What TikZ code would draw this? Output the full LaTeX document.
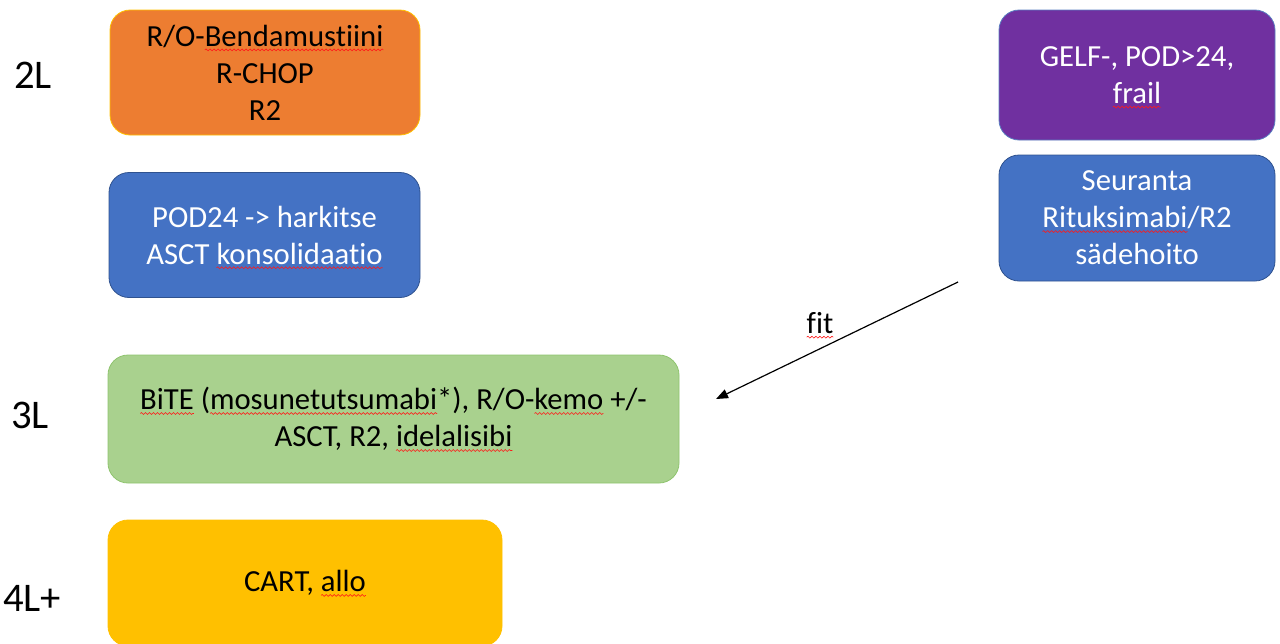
\documentclass[tikz,border=0pt]{standalone}
\usepackage{fontspec}
\setmainfont{Carlito}[Ligatures=NoCommon]
\usetikzlibrary{arrows.meta,decorations.pathmorphing}
\newsavebox\sqbox
\newcommand\sq[1]{\sbox\sqbox{#1}\rlap{\tikz[overlay]\draw[sharp corners, red!90!white, line width=0.45pt, decorate,
  decoration={snake, amplitude=0.7pt, segment length=3pt}] (0pt,-2.8pt) -- (\the\wd\sqbox,-2.8pt);}\usebox\sqbox}
\definecolor{cOrange}{HTML}{ED7D31}
\definecolor{cOrangeB}{HTML}{FFC000}
\definecolor{cBlue}{HTML}{4472C4}
\definecolor{cBlueB}{HTML}{2F528F}
\definecolor{cPurple}{HTML}{7030A0}
\definecolor{cPurpleB}{HTML}{5A7FC0}
\definecolor{cGreen}{HTML}{A9D18E}
\definecolor{cGreenB}{HTML}{8FC46E}
\definecolor{cYellow}{HTML}{FFC000}
\tikzset{
  box/.style={rounded corners=15pt, align=center, inner sep=0pt, line width=0.6pt,
    font=\fontsize{23}{27.75}\selectfont},
  lvl/.style={font=\fontsize{30.5}{36}\selectfont, inner sep=0pt, text=black},
  lbl/.style={font=\fontsize{23}{27.75}\selectfont, inner sep=0pt}
}
\begin{document}
\begin{tikzpicture}[x=0.75pt,y=-0.75pt]
\useasboundingbox (0,0) rectangle (1280,643);
\node[box, fill=cOrange, draw=cOrangeB, minimum width=232.5pt, minimum height=93.75pt] (orange) at (265,72.5)
  {R/O-\sq{Bendamustiini}\\R-CHOP\\R2};
\node[box, fill=cBlue, draw=cBlueB, text=white, minimum width=233.25pt, minimum height=93.75pt] (pod) at (264.5,235)
  {POD24 -> harkitse\\ASCT \sq{konsolidaatio}};
\node[box, fill=cPurple, draw=cPurpleB, text=white, minimum width=207pt, minimum height=97.5pt] (gelf) at (1137,75)
  {GELF-, POD>24,\\\sq{frail}};
\node[box, fill=cBlue, draw=cBlueB, text=white, minimum width=207pt, minimum height=94.5pt] (seur) at (1137,218)
  {Seuranta\\\sq{Rituksimabi}/R2\\sädehoito};
\node[box, fill=cGreen, draw=cGreenB, minimum width=428.25pt, minimum height=96pt] (bite) at (393.5,419)
  {\sq{BiTE} (\sq{mosunetutsumabi}*), R/O-\sq{kemo} +/-\\ASCT, R2, \sq{idelalisibi}};
\node[box, fill=cYellow, draw=cYellow, minimum width=295.5pt, minimum height=94.5pt] (cart) at (305,583)
  {CART, \sq{allo}};
\node[lvl] (l2) at (33,75) {2L};
\node[lvl] (l3) at (30,415) {3L};
\node[lvl] (l4) at (32,598) {4L+};
\coordinate (fitA) at (958,282);
\coordinate (fitB) at (716,399);
\draw[line width=0.9pt, -{Triangle[length=9pt,width=7pt]}] (fitA) -- (fitB);
\node[lbl] (fit) at (820,323) {\sq{fit}};
\end{tikzpicture}
\end{document}
